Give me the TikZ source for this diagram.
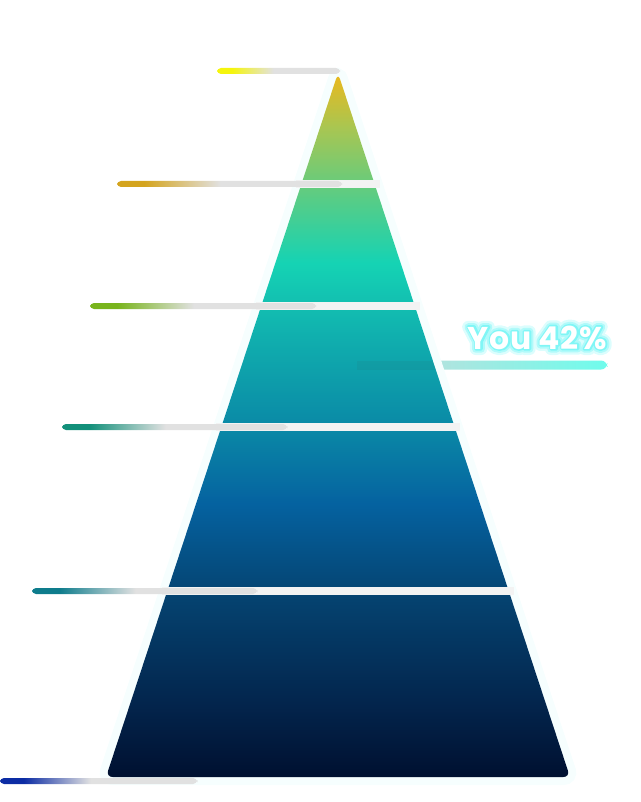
\documentclass[tikz,border=0pt]{standalone}
\usepackage{fontspec}
\usepackage{xcolor}
\usepackage{tikz}
\usetikzlibrary{calc}
\newfontfamily\youfont{Poppins}[LetterSpace=2.0]
\definecolor{tierA}{HTML}{F5F50C}
\definecolor{tierB}{HTML}{D4A41E}
\definecolor{tierC}{HTML}{78B41C}
\definecolor{tierD}{HTML}{12907A}
\definecolor{tierE}{HTML}{0E7C8C}
\definecolor{tierF}{HTML}{0C2CA4}
\definecolor{bargray}{HTML}{E1E1E1}
\definecolor{gapgray}{HTML}{F3F3F3}
\definecolor{halo}{HTML}{F6FEFE}
\definecolor{youtint}{HTML}{CFD8D8}
\definecolor{youcyan}{HTML}{6FFCEC}
\definecolor{glowA}{HTML}{DCFDFD}
\definecolor{glowB}{HTML}{B0FAFA}
\definecolor{glowC}{HTML}{80F6F6}
\definecolor{pyr0}{HTML}{001030}
\definecolor{pyr1}{HTML}{03264E}
\definecolor{pyr2}{HTML}{05426F}
\definecolor{pyr3}{HTML}{0562A0}
\definecolor{pyr4}{HTML}{0A88A6}
\definecolor{pyr5}{HTML}{10AEAE}
\definecolor{pyr6}{HTML}{15D3B4}
\definecolor{pyr7}{HTML}{5ECC82}
\definecolor{pyr8}{HTML}{A8C652}
\definecolor{pyr9}{HTML}{ECB81C}
\colorlet{tiercol}{tierA}
\pgfdeclareverticalshading{pyramidshade}{100bp}{color(0bp)=(pyr0); color(25bp)=(pyr0);
  color(30.5bp)=(pyr1); color(37.6bp)=(pyr2); color(44.4bp)=(pyr3); color(49.7bp)=(pyr4);
  color(56.1bp)=(pyr5); color(61.5bp)=(pyr6); color(66.5bp)=(pyr7); color(71.1bp)=(pyr8);
  color(75bp)=(pyr9); color(100bp)=(pyr9)}
\pgfdeclarehorizontalshading[tiercol]{barshade}{100bp}{color(0bp)=(tiercol); color(25bp)=(tiercol);
  color(31bp)=(tiercol); color(48bp)=(bargray); color(100bp)=(bargray)}
\newcommand{\glowtext}[2]{\special{pdf:literal direct 1 Tr #1 w 1 j 1 J}#2\special{pdf:literal direct 0 Tr}}
\tikzset{youtext/.style={anchor=base east, inner sep=0pt, font=\youfont\bfseries\fontsize{23.6pt}{28pt}\selectfont}}

\begin{document}
\begin{tikzpicture}[x=0.75pt,y=-0.75pt]
  \useasboundingbox (0,0) rectangle (640,802);
  \coordinate (apex) at (338,73);
  \coordinate (baseL) at (106,777);
  \coordinate (baseR) at (570,777);
  \coordinate (youend) at (607,349);
  \shade[left color=youtint, right color=youcyan, rounded corners=4.5] (357,360.5) rectangle (607,369.5);
  \draw[halo, line width=12pt, rounded corners=5] (apex) -- (baseR) -- (baseL) -- cycle;
  \shade[shading=pyramidshade, rounded corners=5] (apex) -- (baseR) -- (baseL) -- cycle;
  \begin{scope}
    \clip (apex) -- (baseR) -- (baseL) -- cycle;
    \fill[youtint!30!black, opacity=0.07] (357,360.5) rectangle (450,369.5);
  \end{scope}
  \foreach \y in {184,306,427,591} {
    \pgfmathsetmacro{\w}{0.32955*(\y-73)+5}
    \fill[gapgray] (338-\w,\y-4) rectangle (338+\w,\y+4);
  }
  \foreach \y/\xa/\xb/\col in {71/217/340/tierA,184/117/342/tierB,306/90/316/tierC,427/62/287/tierD,591/32/257/tierE,781/0/197/tierF} {
    \colorlet{tiercol}{\col}
    \shade[shading=barshade, rounded corners=3] (\xa,\y-3) rectangle (\xb,\y+3);
  }
  \foreach \lw/\gc [count=\k] in {9/glowA,5.5/glowB,2.5/glowC} {
    \node[youtext, \gc] (glow\k) at (youend) {\glowtext{\lw}{You 42\%}};
  }
  \node[youtext, white] (you) at (youend) {You 42\%};
\end{tikzpicture}
\end{document}
